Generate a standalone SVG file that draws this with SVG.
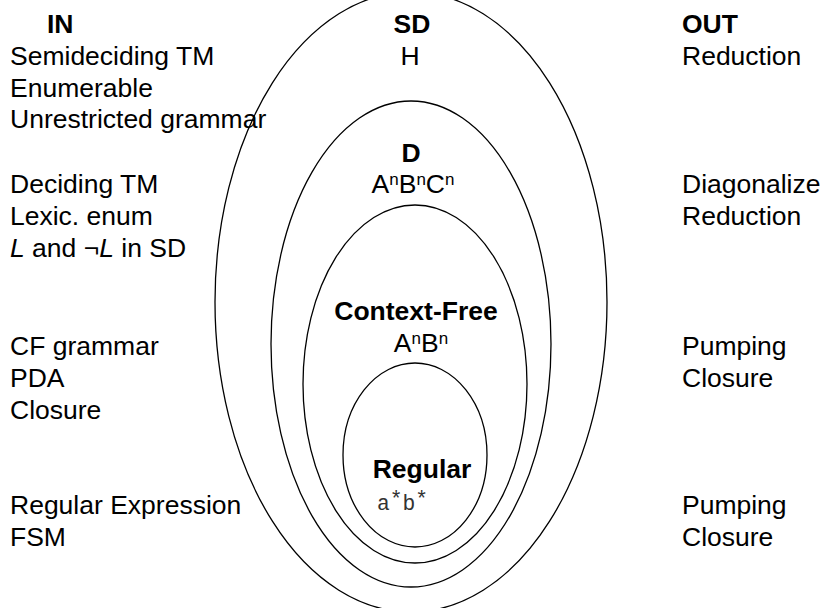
<svg xmlns="http://www.w3.org/2000/svg" width="827" height="608" viewBox="0 0 827 608">
<style>
text{font-family:"Liberation Sans",Arial,Helvetica,sans-serif;font-size:26.5px;fill:#000}
.b{font-weight:bold}
.c{text-anchor:middle}
.sup{font-size:17px}
.mono{font-family:"Liberation Mono","Courier New",monospace;font-size:21.3px;fill:#333}
.ring{fill:none;stroke:#000;stroke-width:1.3}
</style>
<rect width="827" height="608" fill="#fff"/>
<g id="connectors"></g>
<g id="sd"><ellipse class="ring" cx="411" cy="302" rx="196" ry="310"/>
<text class="b c" x="412" y="33">SD</text><text class="c" x="410" y="65">H</text></g>
<g id="d"><ellipse class="ring" cx="411" cy="344" rx="140" ry="243"/>
<text class="b c" x="411" y="162">D</text>
<text class="c" x="413" y="193">A<tspan class="sup" dy="-8">n</tspan><tspan dy="8">B</tspan><tspan class="sup" dy="-8">n</tspan><tspan dy="8">C</tspan><tspan class="sup" dy="-8">n</tspan></text></g>
<g id="cf"><ellipse class="ring" cx="415" cy="384" rx="112" ry="179"/>
<text class="b c" x="416" y="320">Context-Free</text>
<text class="c" x="421" y="352">A<tspan class="sup" dy="-8">n</tspan><tspan dy="8">B</tspan><tspan class="sup" dy="-8">n</tspan></text></g>
<g id="regular"><ellipse class="ring" cx="415" cy="455" rx="72" ry="92"/>
<text class="b c" x="422" y="478">Regular</text>
<text class="mono" x="377" y="510">a<tspan dy="-4">*</tspan><tspan dy="4">b</tspan><tspan dy="-4">*</tspan></text></g>
<g id="in">
<text class="b" x="47" y="33">IN</text>
<text x="10" y="65">Semideciding TM</text>
<text x="10" y="97">Enumerable</text>
<text x="10" y="128">Unrestricted grammar</text>
<text x="10" y="193">Deciding TM</text>
<text x="10" y="225">Lexic. enum</text>
<text x="10" y="257"><tspan font-style="italic">L</tspan> and ¬<tspan font-style="italic">L</tspan> in SD</text>
<text x="10" y="355">CF grammar</text>
<text x="10" y="387">PDA</text>
<text x="10" y="419">Closure</text>
<text x="10" y="514">Regular Expression</text>
<text x="10" y="546">FSM</text>
</g>
<g id="out">
<text class="b" x="682" y="33">OUT</text>
<text x="682" y="65">Reduction</text>
<text x="682" y="193">Diagonalize</text>
<text x="682" y="225">Reduction</text>
<text x="682" y="355">Pumping</text>
<text x="682" y="387">Closure</text>
<text x="682" y="514">Pumping</text>
<text x="682" y="546">Closure</text>
</g>
</svg>
